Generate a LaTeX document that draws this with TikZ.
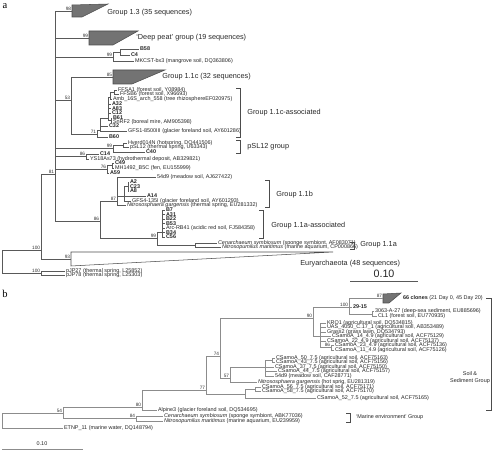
\documentclass[tikz,border=0pt]{standalone}
\usepackage{fontspec}
\setsansfont{Liberation Sans}
\setmainfont{Liberation Serif}
\newcommand\leafsize{\fontsize{3.1}{3.7}\selectfont\sffamily}
\newcommand\bootsize{\fontsize{2.7}{3.2}\selectfont\sffamily}
\newcommand\groupsize{\fontsize{4.15}{5}\selectfont\sffamily}
\definecolor{treea}{gray}{0.35}
\definecolor{treeb}{gray}{0.55}
\definecolor{wedge}{gray}{0.45}
\begin{document}
\begin{tikzpicture}[x=0.02cm,y=-0.02cm,
  lf/.style={anchor=west,inner sep=0.4pt,font=\leafsize,text=black!85},
  lfb/.style={lf,font=\leafsize\bfseries},
  bs/.style={anchor=south east,inner sep=0.3pt,font=\bootsize,text=black!80},
  grp/.style={anchor=west,inner sep=0pt,font=\groupsize,text=black!85},
  tri/.style={draw=black!70,fill=wedge,line width=0.3pt},
  bra/.style={draw=black!70,line width=0.3pt},
  ta/.style={draw=treea,line width=0.35pt},
  tb/.style={draw=treeb,line width=0.35pt}]
\useasboundingbox (0,0) rectangle (500,452);
\node[inner sep=0pt,font=\rmfamily\fontsize{6}{7}\selectfont] (lbla) at (5,6) {a};
\node[inner sep=0pt,font=\rmfamily\fontsize{6}{7}\selectfont] (lblb) at (5,294) {b};
\coordinate (rA) at (2,261.5);
\coordinate (n100a) at (41,250);
\coordinate (n81) at (55,174);
\coordinate (g13) at (72,11);
\coordinate (gdp) at (89,38);
\coordinate (n99a) at (113,57);
\coordinate (nB58) at (120,52);
\coordinate (n53) at (71,100);
\coordinate (g11c) at (113,77);
\coordinate (n71) at (97,134);
\coordinate (nX) at (100,130);
\coordinate (nY) at (108,118);
\coordinate (nF) at (110,97);
\coordinate (nFF) at (114,92);
\coordinate (nB61) at (111,120);
\coordinate (n99b) at (113,148.5);
\coordinate (nHv) at (123,145);
\coordinate (n86b) at (86,156.5);
\coordinate (n76) at (107,169);
\coordinate (nC49) at (112,165.5);
\coordinate (n86c) at (100,221);
\coordinate (n87) at (117,201);
\coordinate (nG) at (124,196);
\coordinate (nA2) at (128,186.5);
\coordinate (n99c) at (157,238.5);
\coordinate (nRB) at (162,232);
\coordinate (n11a) at (195,245);
\coordinate (geu) at (71,259);
\coordinate (npj) at (41,273);
\draw[tri] (72,5) -- (108,4) -- (82,17) -- (72,17) -- cycle;
\draw[tri] (89,31) -- (138,31) -- (113,45) -- (89,45) -- cycle;
\draw[tri] (113,70) -- (165,70) -- (132,84) -- (113,84) -- cycle;
\draw[bra] (71,252) -- (333,252) -- (71,266) -- cycle;
\node[grp] (t13) at (107,13) {Group 1.3 (35 sequences)};
\node[grp] (tdp) at (136,38) {‘Deep peat’ group (19 sequences)};
\node[grp] (t11c) at (162,77) {Group 1.1c (32 sequences)};
\node[grp] (teu) at (300,264) {Euryarchaeota (48 sequences)};
\node[lfb] (b58) at (139,49) {B58};
\node[lfb] (c4) at (130,55) {C4};
\node[lf] (mkcst) at (134,61) {MKCST-bx3 (mangrove soil, DQ363806)};
\node[lf] (ffsa1) at (117,90) {FFSA1 (forest soil, Y08984)};
\node[lf] (ffsb6) at (119,94) {FFSB6 (forest soil, X96693)};
\node[lf] (amb) at (112,99) {Amb\_16S\_arch\_558 (tree rhizosphereEF020975)};
\node[lfb] (a32) at (111,104) {A32};
\node[lfb] (a83) at (111,108.5) {A83};
\node[lfb] (c12) at (111,113) {C12};
\node[lfb] (b61) at (112,118) {B61};
\node[lf] (snrf2) at (112,122) {SnRF2 (boreal mire, AM905398)};
\node[lfb] (c32) at (108,126) {C32};
\node[lf] (gfs1) at (127,131) {GFS1-8500III (glacier foreland soil, AY601286)};
\node[lfb] (b60) at (108,137) {B60};
\node[lf] (hverd) at (127,143) {Hverd014N (hotspring, DQ441506)};
\node[lf] (psl12) at (129,147) {pSL12 (thermal spring, U63343)};
\node[lfb] (c40) at (145,152) {C40};
\node[lfb] (c14) at (99,154) {C14};
\node[lf] (ys18) at (89,159) {YS18As73 (hydrothermal deposit, AB329821)};
\node[lfb] (c49) at (114,163) {C49};
\node[lf] (mh1492) at (114,168) {MH1492\_B5C (fen, EU155999)};
\node[lfb] (a59) at (109,173) {A59};
\node[lf] (d54a) at (156,177) {54d9 (meadow soil, AJ627422)};
\node[lfb] (a2) at (129,182) {A2};
\node[lfb] (c23) at (129,186.5) {C23};
\node[lfb] (a8) at (129,191) {A8};
\node[lfb] (a14) at (146,196) {A14};
\node[lf] (gfs4) at (131,201) {GFS4-135I (glacier foreland soil, AY601293)};
\node[lf] (nga) at (126,205.5) {\textit{Nitrososphaera gargensis} (thermal spring, EU281332)};
\node[lfb] (b7) at (165,210) {B7};
\node[lfb] (a31) at (165,214.5) {A31};
\node[lfb] (b22) at (165,219) {B22};
\node[lfb] (b53) at (165,223.5) {B53};
\node[lf] (arc) at (165,228) {Arc-RB41 (acidic red soil, FJ584358)};
\node[lfb] (b34) at (165,232.5) {B34};
\node[lfb] (c56) at (165,237) {C56};
\node[lf] (cenA) at (217,243) {\textit{Cenarchaeum symbiosum} (sponge symbiont, AF083071)};
\node[lf] (nmarA) at (221,247) {\textit{Nitrosopumilus maritimus} (marine aquarium, CP000866)};
\node[lf] (pjp27) at (65,271) {pJP27 (thermal spring, L25852)};
\node[lf] (pjp78) at (65,275) {pJP78 (thermal spring, L25303)};
\node[bs] (s81) at (n81) {81};
\node[bs] (s100a) at (n100a) {100};
\node[bs] (s98) at (g13) {98};
\node[bs] (s99d) at (gdp) {99};
\node[bs] (s99a) at (n99a) {99};
\node[bs] (s53) at (n53) {53};
\node[bs] (s85) at (g11c) {85};
\node[bs] (s71) at (n71) {71};
\node[bs] (s99b) at (n99b) {99};
\node[bs] (s86b) at (n86b) {86};
\node[bs] (s76) at (n76) {76};
\node[bs] (s86c) at (n86c) {86};
\node[bs] (s87) at (n87) {87};
\node[bs] (s99c) at (n99c) {99};
\node[bs] (s93) at (geu) {93};
\node[bs] (s100p) at (npj) {100};
\draw[ta] (rA) |- (n100a);
\draw[ta] (rA) |- (npj);
\draw[ta] (n100a) |- (n81);
\draw[ta] (n100a) |- (geu);
\draw[ta] (n81) |- (g13);
\draw[ta] (n81) |- (gdp);
\draw[ta] (n81) |- (n99a);
\draw[ta] (n81) |- (n53);
\draw[ta] (n81) |- (n99b);
\draw[ta] (n81) |- (n86b);
\draw[ta] (n81) |- (n76);
\draw[ta] (n81) |- (n86c);
\draw[ta] (n99a) |- (nB58);
\draw[ta] (n99a) |- (mkcst.west);
\draw[ta] (nB58) |- (b58.west);
\draw[ta] (nB58) |- (c4.west);
\draw[ta] (n53) |- (g11c);
\draw[ta] (n53) |- (n71);
\draw[ta] (n71) |- (nX);
\draw[ta] (n71) |- (b60.west);
\draw[ta] (nX) |- (nY);
\draw[ta] (nX) |- (c32.west);
\draw[ta] (nX) |- (gfs1.west);
\draw[ta] (nY) |- (nF);
\draw[ta] (nY) |- (a32.west);
\draw[ta] (nY) |- (a83.west);
\draw[ta] (nY) |- (c12.west);
\draw[ta] (nY) |- (nB61);
\draw[ta] (nF) |- (nFF);
\draw[ta] (nF) |- (amb.west);
\draw[ta] (nFF) |- (ffsa1.west);
\draw[ta] (nFF) |- (ffsb6.west);
\draw[ta] (nB61) |- (b61.west);
\draw[ta] (nB61) |- (snrf2.west);
\draw[ta] (n99b) |- (nHv);
\draw[ta] (n99b) |- (c40.west);
\draw[ta] (nHv) |- (hverd.west);
\draw[ta] (nHv) |- (psl12.west);
\draw[ta] (n86b) |- (c14.west);
\draw[ta] (n86b) |- (ys18.west);
\draw[ta] (n76) |- (nC49);
\draw[ta] (n76) |- (a59.west);
\draw[ta] (nC49) |- (c49.west);
\draw[ta] (nC49) |- (mh1492.west);
\draw[ta] (n86c) |- (n87);
\draw[ta] (n86c) |- (n99c);
\draw[ta] (n87) |- (d54a.west);
\draw[ta] (n87) |- (nG);
\draw[ta] (n87) |- (nga.west);
\draw[ta] (nG) |- (nA2);
\draw[ta] (nG) |- (a14.west);
\draw[ta] (nG) |- (gfs4.west);
\draw[ta] (nA2) |- (a2.west);
\draw[ta] (nA2) |- (c23.west);
\draw[ta] (nA2) |- (a8.west);
\draw[ta] (n99c) |- (nRB);
\draw[ta] (n99c) |- (n11a);
\draw[ta] (nRB) |- (b7.west);
\draw[ta] (nRB) |- (a31.west);
\draw[ta] (nRB) |- (b22.west);
\draw[ta] (nRB) |- (b53.west);
\draw[ta] (nRB) |- (arc.west);
\draw[ta] (nRB) |- (b34.west);
\draw[ta] (nRB) |- (c56.west);
\draw[ta] (n11a) |- (cenA.west);
\draw[ta] (n11a) |- (nmarA.west);
\draw[ta] (npj) |- (pjp27.west);
\draw[ta] (npj) |- (pjp78.west);
\draw[bra] (236,88) -- (240,88) -- (240,137) -- (236,137);
\draw[bra] (236,140) -- (240,140) -- (240,153) -- (236,153);
\draw[bra] (265,180) -- (269,180) -- (269,207) -- (265,207);
\draw[bra] (259,210) -- (263,210) -- (263,238) -- (259,238);
\draw[bra] (350,242) -- (354,242) -- (354,249) -- (350,249);
\node[grp] (t11ca) at (247,113) {Group 1.1c-associated};
\node[grp] (tsl) at (247,147) {pSL12 group};
\node[grp] (t11b) at (276,195) {Group 1.1b};
\node[grp] (t11aa) at (271,226) {Group 1.1a-associated};
\node[grp] (t11a) at (360,245) {Group 1.1a};
\draw[ta] (350,281) -- (418,281);
\node[inner sep=0pt,font=\fontsize{6.1}{7}\selectfont\sffamily,text=black!85] (scA) at (384,274) {0.10};
\coordinate (rB) at (2,420.5);
\coordinate (n54a) at (63,413);
\coordinate (n84) at (136,418);
\coordinate (n80) at (142,407);
\coordinate (n77) at (206,390);
\coordinate (n74) at (220,356);
\coordinate (n90) at (313,318);
\coordinate (n100b) at (349,307);
\coordinate (gcl) at (383,298.5);
\coordinate (nCL1) at (372,314);
\coordinate (nQ) at (320,336);
\coordinate (n86d) at (331,347.75);
\coordinate (n57) at (230,378);
\coordinate (nC50) at (265,367);
\coordinate (nS50) at (272,360.25);
\coordinate (nZ) at (245,394);
\coordinate (nS56) at (255,389.25);
\draw[tri] (383,294) -- (401,293) -- (389,303) -- (383,303) -- cycle;
\node[lf] (clones) at (402,298) {\textbf{66 clones} (21 Day 0, 45 Day 20)};
\node[lfb] (s2915) at (352,307) {29-15};
\node[lf] (s3063) at (374,311.5) {3063-A-27 (deep-sea sediment, EU885696)};
\node[lf] (cl1) at (377,316.5) {CL1 (forest soil, EU770935)};
\node[lf] (kro1) at (326,323) {KRO1 (agricultural soil, DQ534815)};
\node[lf] (uas) at (326,327.5) {UAS\_4050\_C.17\_1 (agricultural soil, AB353489)};
\node[lf] (grass2) at (326,332) {Grass2 (grass lawn, DQ534793)};
\node[lf] (cs14) at (331,336.5) {CSamoA\_14\_4.9 (agricultural soil, ACF75129)};
\node[lf] (cs22) at (326,341) {CSamoA\_22\_4.9 (agricultural soil, ACF75137)};
\node[lf] (cs23) at (334,345.5) {CSamoA\_23\_4.9 (agricultural soil, ACF75136)};
\node[lf] (cs11) at (334,350) {CSamoA\_11\_4.9 (agricultural soil, ACF75126)};
\node[lf] (cs50) at (275,358) {CSamoA\_50\_7.5 (agricultural soil, ACF75163)};
\node[lf] (cs43) at (275,362.5) {CSamoA\_43\_7.5 (agricultural soil, ACF75156)};
\node[lf] (cs37) at (274,367) {CSamoA\_37\_7.5 (agricultural soil, ACF75150)};
\node[lf] (cs44) at (277,371.5) {CSamoA\_44\_7.5 (agricultural soil, ACF75157)};
\node[lf] (d54b) at (274,376) {54d9 (meadow soil, CAF28771)};
\node[lf] (ngb) at (257,382.5) {\textit{Nitrososphaera gargensis} (hot sprig, EU281319)};
\node[lf] (cs56) at (261,387) {CSamoA\_56\_7.5 (agricultural soil, ACF75171)};
\node[lf] (cs58) at (261,391.5) {CSamoA\_58\_7.5 (agricultural soil, ACF75170)};
\node[lf] (cs52) at (316,398) {CSamoA\_52\_7.5 (agricultural soil, ACF75165)};
\node[lf] (alp3) at (157,410) {Alpine3 (glacier foreland soil, DQ534695)};
\node[lf] (cenB) at (163,416) {\textit{Cenarchaeum symbiosum} (sponge symbiont, ABK77036)};
\node[lf] (nmarB) at (163,421) {\textit{Nitrosopumilus maritimus} (marine aquarium, EU239959)};
\node[lf] (etnp) at (63,428) {ETNP\_11 (marine water, DQ148794)};
\node[bs] (t54) at (n54a) {54};
\node[bs] (t84) at (n84) {84};
\node[bs] (t80) at (n80) {80};
\node[bs] (t77) at (n77) {77};
\node[bs] (t74) at (n74) {74};
\node[bs] (t90) at (n90) {90};
\node[bs] (t100) at (n100b) {100};
\node[bs] (t87) at (gcl) {87};
\node[bs] (t86) at (n86d) {86};
\node[bs] (t57) at (n57) {57};
\draw[tb] (rB) |- (n54a);
\draw[tb] (rB) |- (etnp.west);
\draw[tb] (n54a) |- (n80);
\draw[tb] (n54a) |- (n84);
\draw[tb] (n84) |- (cenB.west);
\draw[tb] (n84) |- (nmarB.west);
\draw[tb] (n80) |- (n77);
\draw[tb] (n80) |- (alp3.west);
\draw[tb] (n77) |- (n74);
\draw[tb] (n77) |- (nZ);
\draw[tb] (n74) |- (n90);
\draw[tb] (n74) |- (n57);
\draw[tb] (n90) |- (n100b);
\draw[tb] (n90) |- (nQ);
\draw[tb] (n100b) |- (gcl);
\draw[tb] (n100b) |- (s2915.west);
\draw[tb] (n100b) |- (nCL1);
\draw[tb] (nCL1) |- (s3063.west);
\draw[tb] (nCL1) |- (cl1.west);
\draw[tb] (nQ) |- (kro1.west);
\draw[tb] (nQ) |- (uas.west);
\draw[tb] (nQ) |- (grass2.west);
\draw[tb] (nQ) |- (cs14.west);
\draw[tb] (nQ) |- (cs22.west);
\draw[tb] (nQ) |- (n86d);
\draw[tb] (n86d) |- (cs23.west);
\draw[tb] (n86d) |- (cs11.west);
\draw[tb] (n57) |- (nC50);
\draw[tb] (n57) |- (ngb.west);
\draw[tb] (nC50) |- (nS50);
\draw[tb] (nC50) |- (cs37.west);
\draw[tb] (nC50) |- (cs44.west);
\draw[tb] (nC50) |- (d54b.west);
\draw[tb] (nS50) |- (cs50.west);
\draw[tb] (nS50) |- (cs43.west);
\draw[tb] (nZ) |- (nS56);
\draw[tb] (nZ) |- (cs52.west);
\draw[tb] (nS56) |- (cs56.west);
\draw[tb] (nS56) |- (cs58.west);
\draw[bra] (486,298) -- (491,298) -- (491,410) -- (486,410);
\node[inner sep=0pt,font=\leafsize,text=black!85,align=center] (tsoil) at (470,377.5) {Soil \&\\Sediment Group};
\draw[bra] (346,413) -- (350,413) -- (350,422) -- (346,422);
\node[lf] (tmar) at (355,417.5) {‘Marine environment’ Group};
\draw[tb] (2,449.5) -- (83,449.5);
\node[inner sep=0pt,font=\leafsize,text=black!85] (scB) at (42,444) {0.10};
\end{tikzpicture}
\end{document}
